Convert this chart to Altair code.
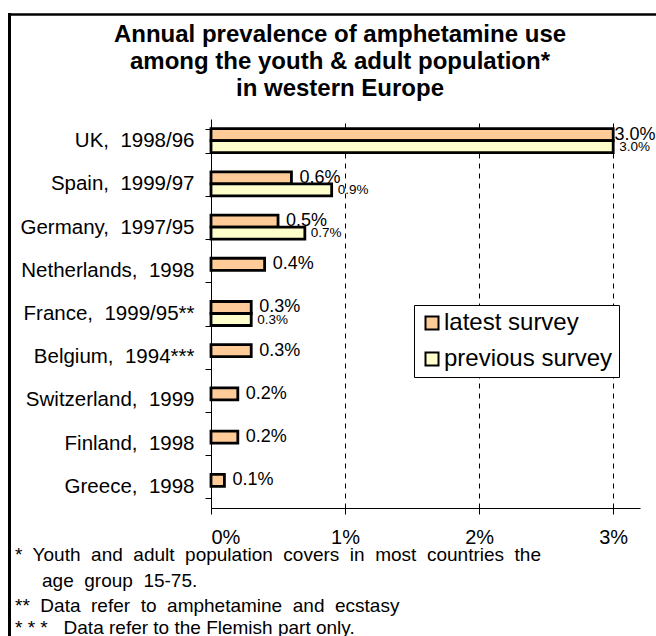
import altair as alt
import pandas as pd

NB = "\u00a0"

countries = [
    "UK," + NB + " 1998/96",
    "Spain," + NB + " 1999/97",
    "Germany," + NB + " 1997/95",
    "Netherlands," + NB + " 1998",
    "France," + NB + " 1999/95**",
    "Belgium," + NB + " 1994***",
    "Switzerland," + NB + " 1999",
    "Finland," + NB + " 1998" + NB,
    "Greece," + NB + " 1998",
]
latest = [3.0, 0.6, 0.5, 0.4, 0.3, 0.3, 0.2, 0.2, 0.1]
previous = [3.0, 0.9, 0.7, None, 0.3, None, None, None, None]
series_names = ["latest survey", "previous survey"]
series_colors = ["#FFCC99", "#FFFFCC"]
x_ticks = [0, 1, 2, 3]
title_lines = [
    "Annual prevalence of amphetamine use",
    "among the youth & adult population*",
    "in western Europe",
]
footnotes = [
    "*" + NB + " Youth" + NB + " and" + NB + " adult" + NB + " population" + NB + " covers" + NB + " in" + NB + " most" + NB + " countries" + NB + " the",
    "age" + NB + " group" + NB + " 15-75.",
    "**" + NB + " Data" + NB + " refer" + NB + " to" + NB + " amphetamine" + NB + " and" + NB + " ecstasy",
    "*" + NB + "*" + NB + "*" + NB + NB + " Data refer to the Flemish part only.",
]

rows = []
for c, a, b in zip(countries, latest, previous):
    rows.append({"country": c, "series": series_names[0], "value": a})
    if b is not None:
        rows.append({"country": c, "series": series_names[1], "value": b})
df = pd.DataFrame(rows)

FONT = "Liberation Sans"
W, H = 429, 389
PL, PT = 211, 119

xscale = alt.Scale(domain=[0, 3.2], nice=False, zero=True)
yscale = alt.Scale(paddingInner=0.444, paddingOuter=0.222)
offscale = alt.Scale(domain=series_names, paddingInner=0, paddingOuter=0)

y_enc = alt.Y(
    "country:N",
    sort=countries,
    scale=yscale,
    axis=alt.Axis(
        title=None,
        tickBand="extent",
        labelFont=FONT,
        labelFontSize=20.5,
        labelColor="black",
        domainColor="black",
        tickColor="black",
        tickSize=6,
        labelPadding=11,
        grid=False,
        labelLimit=300,
    ),
)

bars = alt.Chart(df).mark_bar(stroke="black", strokeWidth=2.8).encode(
    x=alt.X(
        "value:Q",
        scale=xscale,
        axis=alt.Axis(
            title=None,
            values=x_ticks,
            labelExpr="datum.value + '%'",
            labelFont=FONT,
            labelFontSize=20,
            labelColor="black",
            labelPadding=13,
            tickSize=6,
            tickColor="black",
            domainColor="black",
            grid=True,
            gridColor="black",
            gridDash=[5, 5],
            gridOpacity=1,
            gridWidth=1,
        ),
    ),
    y=y_enc,
    yOffset=alt.YOffset("series:N", sort=series_names, scale=offscale),
    fill=alt.Fill(
        "series:N",
        scale=alt.Scale(domain=series_names, range=series_colors),
        legend=alt.Legend(
            title=None,
            orient="none",
            legendX=203,
            legendY=186,
            padding=6,
            strokeColor="black",
            fillColor="white",
            labelFont=FONT,
            labelFontSize=24,
            labelColor="black",
            labelOffset=0,
            labelLimit=400,
            symbolType="square",
            symbolSize=169,
            symbolStrokeColor="black",
            symbolStrokeWidth=2,
            rowPadding=12,
        ),
    ),
)

lab_latest = (
    alt.Chart(df)
    .transform_filter(alt.datum.series == series_names[0])
    .transform_calculate(lx="min(datum.value, 2.95)", txt="format(datum.value, '.1f') + '%'")
    .mark_text(align="left", baseline="middle", dx=8, font=FONT, fontSize=18, color="black")
    .encode(
        x=alt.X("lx:Q", scale=xscale),
        y=alt.Y("country:N", sort=countries, scale=yscale),
        yOffset=alt.YOffset("series:N", sort=series_names, scale=offscale),
        text="txt:N",
    )
)

lab_prev = (
    alt.Chart(df)
    .transform_filter(alt.datum.series == series_names[1])
    .transform_calculate(txt="format(datum.value, '.1f') + '%'")
    .mark_text(align="left", baseline="middle", dx=6, font=FONT, fontSize=13.5, color="black")
    .encode(
        x=alt.X("value:Q", scale=xscale),
        y=alt.Y("country:N", sort=countries, scale=yscale),
        yOffset=alt.YOffset("series:N", sort=series_names, scale=offscale),
        text="txt:N",
    )
)

layers = [bars, lab_latest, lab_prev]

title_baselines = [42, 69, 96]
for line, yb in zip(title_lines, title_baselines):
    layers.append(
        alt.Chart(pd.DataFrame({"t": [line]}))
        .mark_text(align="center", baseline="alphabetic", font=FONT, fontSize=24, fontWeight="bold", color="black")
        .encode(text="t:N", x=alt.value(340 - PL), y=alt.value(yb - PT))
    )

foot_x = [15, 42, 15, 15]
foot_baselines = [561, 587, 612, 634]
for line, xx, yb in zip(footnotes, foot_x, foot_baselines):
    layers.append(
        alt.Chart(pd.DataFrame({"t": [line]}))
        .mark_text(align="left", baseline="alphabetic", font=FONT, fontSize=19, color="black")
        .encode(text="t:N", x=alt.value(xx - PL), y=alt.value(yb - PT))
    )

border_left = alt.Chart(pd.DataFrame({"a": [0]})).mark_rule(color="black", strokeWidth=3).encode(
    x=alt.value(9.5 - PL), y=alt.value(13 - PT), y2=alt.value(640 - PT)
)
border_top = alt.Chart(pd.DataFrame({"a": [0]})).mark_rule(color="black", strokeWidth=2.3).encode(
    x=alt.value(8 - PL), x2=alt.value(660 - PL), y=alt.value(14.5 - PT)
)
layers += [border_left, border_top]

chart = (
    alt.layer(*layers)
    .properties(
        width=W,
        height=H,
        autosize=alt.AutoSizeParams(type="none"),
        padding={"left": PL, "top": PT, "right": 656 - PL - W, "bottom": 636 - PT - H},
        background="white",
    )
    .configure_view(stroke=None)
)

chart.save("out.html", embed_options={"renderer": "svg", "actions": False})
